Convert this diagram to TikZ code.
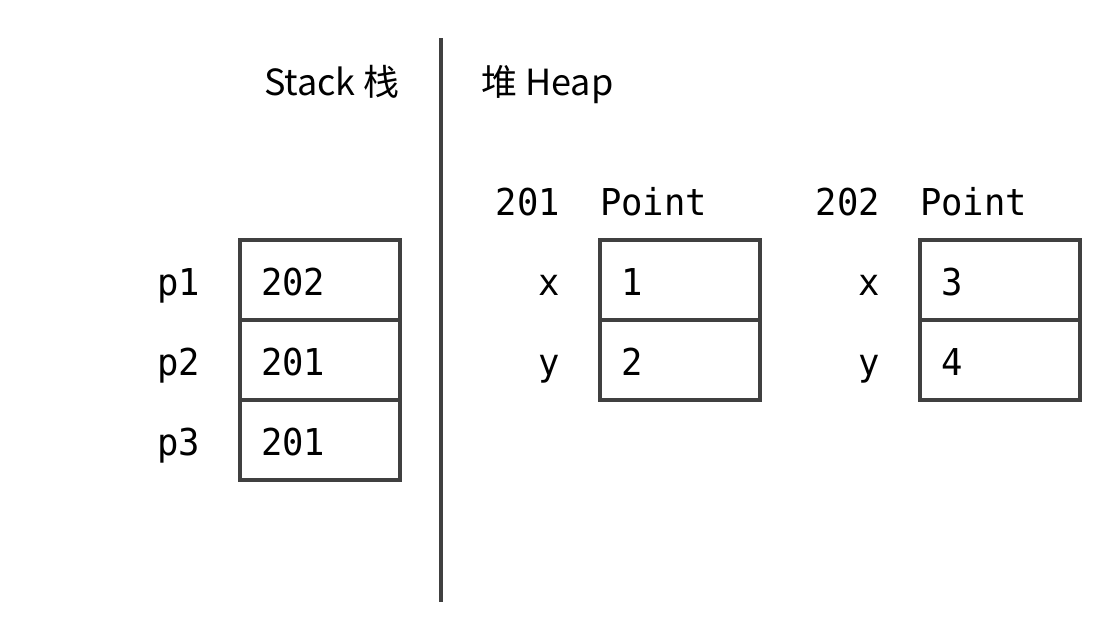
\documentclass[tikz,border=0pt]{standalone}
\usepackage{fontspec}
\setmonofont[FakeStretch=0.96]{DejaVu Sans Mono}
\newfontfamily\hdfont{Noto Sans CJK SC}
\begin{document}
\begin{tikzpicture}[x=1pt,y=-1pt,
  cell/.style={draw=linegray,line width=3.5pt},
  mono/.style={font=\fontsize{37}{40}\ttfamily,inner sep=0pt,text=black},
  head/.style={font=\fontsize{36}{40}\hdfont,inner sep=0pt,text=black}]
\definecolor{linegray}{HTML}{404040}
\useasboundingbox (0,0) rectangle (1120,640);
\fill[white] (0,0) rectangle (1120,640);
% divider
\draw[linegray,line width=3.5pt] (441,38) -- (441,602);
% headers
\node[head,anchor=base east] (stk) at (400,95) {Stack 栈};
\node[head,anchor=base west] (hp) at (481,95) {堆 Heap};
% stack cells
\foreach \i/\v/\n in {0/202/p1,1/201/p2,2/201/p3}{
  \draw[cell] (240,240+80*\i) rectangle (400,320+80*\i);
  \node[mono,anchor=base west] (sv\i) at (261,295+80*\i) {\v};
  \node[mono,anchor=base east] (sl\i) at (200,295+80*\i) {\n};
}
% heap objects
\foreach \ox/\addr/\a/\b in {600/201/1/2,920/202/3/4}{
  \node[mono,anchor=base east] at (\ox-40,215) {\addr};
  \node[mono,anchor=base west] at (\ox,215) {Point};
  \draw[cell] (\ox,240) rectangle (\ox+160,320);
  \draw[cell] (\ox,320) rectangle (\ox+160,400);
  \node[mono,anchor=base west] at (\ox+21,295) {\a};
  \node[mono,anchor=base west] at (\ox+21,375) {\b};
  \node[mono,anchor=base east] at (\ox-40,295) {x};
  \node[mono,anchor=base east] at (\ox-40,375) {y};
}
\end{tikzpicture}
\end{document}
